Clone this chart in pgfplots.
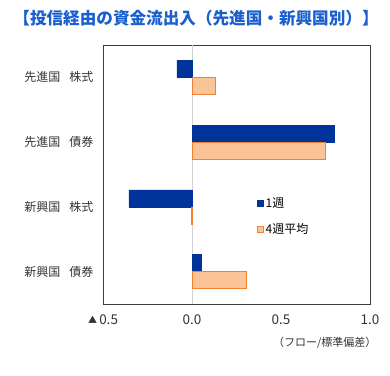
\documentclass[border=0pt]{standalone}
\usepackage{fontspec}
\setmainfont{Noto Sans CJK JP}
\usepackage{pgfplots}
\pgfplotsset{compat=1.18}
\definecolor{wk}{RGB}{0,51,153}
\definecolor{avgfill}{RGB}{251,196,150}
\definecolor{avgline}{RGB}{240,130,50}
\definecolor{ttl}{RGB}{25,95,205}
\definecolor{frm}{RGB}{60,60,60}
\begin{document}
\begin{tikzpicture}[x=1pt,y=1pt]
\useasboundingbox (0,0) rectangle (390,375);
\node[text=ttl,font=\fontsize{16.6}{18}\selectfont\bfseries] at (196,357) {【投信経由の資金流出入（先進国・新興国別）】};
\begin{axis}[
  at={(103pt,71pt)}, anchor=south west,
  scale only axis, width=267pt, height=259pt,
  xbar=0pt, bar width=17pt,
  xmin=-0.5, xmax=1.0, ymin=-0.5, ymax=3.5,
  y dir=reverse,
  axis line style={frm, line width=0.8pt},
  major tick length=0pt,
  ytick={0,1,2,3},
  yticklabels={先進国\hspace{9pt}株式,先進国\hspace{9pt}債券,新興国\hspace{9pt}株式,新興国\hspace{9pt}債券},
  yticklabel style={font=\fontsize{12}{14}\selectfont, text=black!80, xshift=-6pt},
  xtick={-0.5,0,0.5,1.0},
  xticklabels={{\raisebox{0.5pt}{\fontsize{9}{10}\selectfont ▲}\,0.5},0.0,0.5,1.0},
  xticklabel style={font=\fontsize{13.5}{15}\selectfont, text=black!80, yshift=-7pt},
  legend style={draw=none, fill=none, at={(0.577,0.42)}, anchor=north west,
    font=\fontsize{12}{14}\selectfont, row sep=11pt, inner sep=0pt},
  legend cell align=left,
  legend image code/.code={\draw[#1] (0pt,-3pt) rectangle (6pt,3pt);},
  clip=false,
]
\draw[gray!35, line width=0.8pt] (axis cs:0,-0.5) -- (axis cs:0,3.5);
\addplot[fill=wk, draw=wk, bar shift=8.5pt] coordinates {(-0.085,0) (0.80,1) (-0.355,2) (0.05,3)};
\addplot[fill=avgfill, draw=avgline, bar shift=-8.5pt] coordinates {(0.13,0) (0.75,1) (-0.005,2) (0.305,3)};
\legend{1週,4週平均}
\end{axis}
\node[anchor=east, font=\fontsize{11}{13}\selectfont, text=black!80] at (380,32) {（フロー/標準偏差）};
\end{tikzpicture}
\end{document}
